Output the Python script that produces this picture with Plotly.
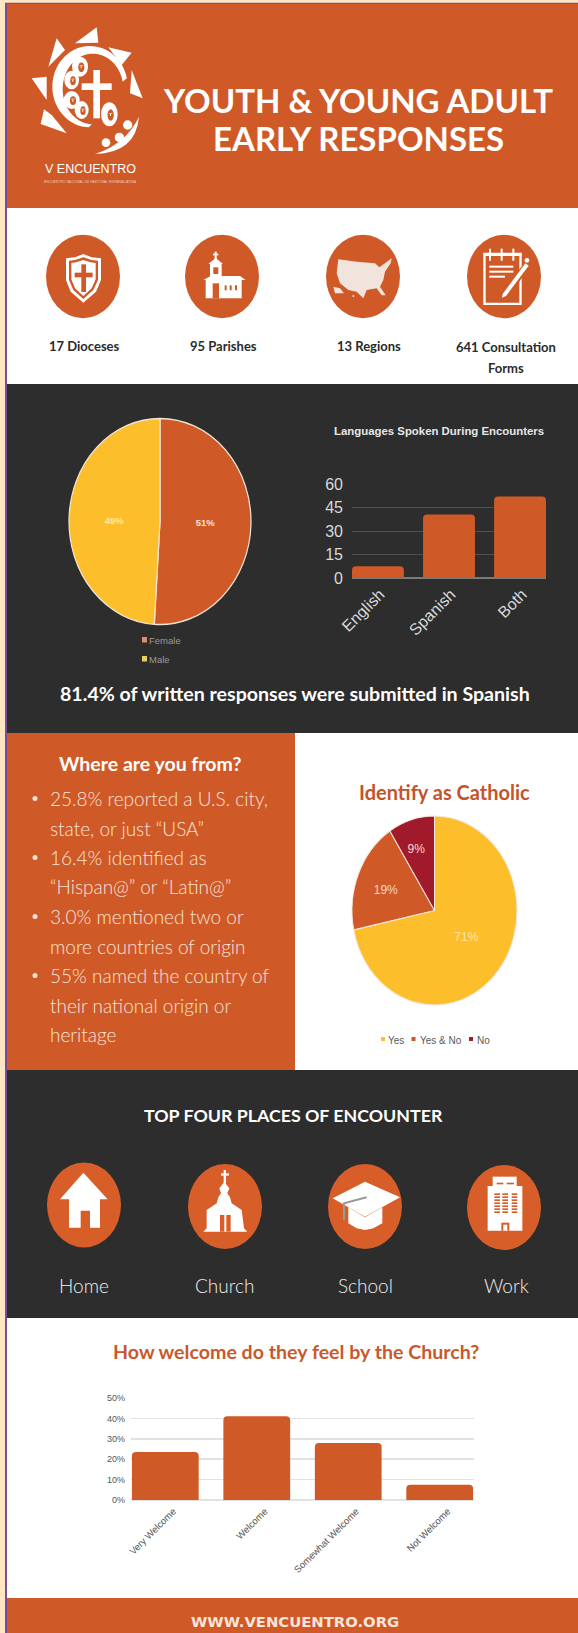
import numpy as np
import plotly.graph_objects as go

W, H = 578, 1633
ORANGE = "#CF5A27"
DARK = "#2D2D2D"
YELLOW = "#FDBE2B"
MAROON = "#A01A2B"
CREAM = "#FFE7C2"
PURPLE = "#7A4BA0"
WHITE = "#FFFFFF"
HEAD = "Lato"

gender_labels = ["Female", "Male"]
gender_values = [51, 49]
language_labels = ["English", "Spanish", "Both"]
language_values = [7.5, 40.5, 52]
catholic_labels = ["Yes", "Yes & No", "No"]
catholic_values = [71, 19, 9]
welcome_labels = ["Very Welcome", "Welcome", "Somewhat Welcome", "Not Welcome"]
welcome_values = [23.5, 41, 28, 7.5]
welcome_ticks = [0, 10, 20, 30, 40, 50]
welcome_ticktext = ["0%", "10%", "20%", "30%", "40%", "50%"]
language_ticks = [0, 15, 30, 45, 60]

shapes = []
annots = []


def rect(x0, y0, x1, y1, color):
    shapes.append(dict(type="rect", xref="x", yref="y", x0=x0, y0=y0, x1=x1, y1=y1,
                       fillcolor=color, line=dict(width=0), layer="below"))


def oval(cx, cy, rx, ry, color):
    shapes.append(dict(type="circle", xref="x", yref="y", x0=cx - rx, y0=cy - ry, x1=cx + rx, y1=cy + ry,
                       fillcolor=color, line=dict(width=0), layer="below"))


def path(d, color, stroke=None, sw=0):
    shapes.append(dict(type="path", xref="x", yref="y", path=d, fillcolor=color,
                       line=dict(width=sw, color=stroke or color), layer="below"))


def poly(pts, ox, oy, color, s=1 / 3):
    d = "M" + " L".join(f"{ox + x * s:.2f},{oy + y * s:.2f}" for x, y in pts) + " Z"
    path(d, color)


def box(x0, y0, x1, y1, ox, oy, color, s=1 / 3):
    rect(ox + x0 * s, oy + y0 * s, ox + x1 * s, oy + y1 * s, color)


def dot(x, y, rx, ry, ox, oy, color, s=1 / 3):
    oval(ox + x * s, oy + y * s, rx * s, ry * s, color)


def text(t, x, y, size, color, family=HEAD, weight=400, anchor="center"):
    annots.append(dict(text=t, x=x, y=y, xref="x", yref="y", showarrow=False, xanchor=anchor, yanchor="middle",
                       font=dict(size=size, color=color, family=family, weight=weight)))


# page panels
rect(0, 0, W, H, CREAM)
rect(5, 2.7, W, H, PURPLE)
rect(7, 4, W, 208, ORANGE)
rect(7, 208, W, 384, WHITE)
rect(7, 384, W, 733, DARK)
rect(7, 733, 295, 1070, ORANGE)
rect(295, 733, W, 1070, WHITE)
rect(7, 1070, W, 1318, DARK)
rect(7, 1318, W, 1598, WHITE)
rect(7, 1598, W, H, ORANGE)

# logo, sketched in crop coordinates
LX, LY = 20, 20
for tri in ([(165, 70), (230, 22), (235, 68)], [(265, 82), (335, 98), (305, 135)],
            [(335, 150), (368, 235), (330, 220)], [(85, 140), (110, 55), (135, 90)],
            [(35, 175), (80, 170), (80, 240)], [(72, 268), (95, 285), (140, 340), (62, 312)]):
    poly(tri, LX, LY, WHITE)
ang_o = np.radians(np.linspace(-12, -268, 50))
ang_i = ang_o[::-1]
outer = [(210 + 113 * np.cos(a), 200 + 122 * np.sin(a)) for a in ang_o]
inner = [(219 + 91 * np.cos(a), 207 + 106 * np.sin(a)) for a in ang_i]
poly(outer + inner, LX, LY, WHITE)
box(220, 150, 240, 295, LX, LY, WHITE)
box(185, 190, 275, 210, LX, LY, WHITE)
for fx, fy, frx, fry in ((180, 140, 24, 30), (155, 180, 22, 28), (155, 240, 24, 27), (185, 270, 21, 27), (268, 283, 25, 36)):
    dot(fx, fy, frx, fry, LX, LY, WHITE)
    dot(fx + 4, fy + 2, frx * 0.38, fry * 0.48, LX, LY, ORANGE)
    box(fx - 1, fy - 4, fx + 9, fy - 2, LX, LY, WHITE)
    box(fx + 2, fy - 1, fx + 5, fy + 5, LX, LY, WHITE)
for dx, dy, dr in ((323, 315, 14), (298, 352, 14), (258, 368, 13)):
    dot(dx, dy, dr, dr, LX, LY, WHITE)
sx = lambda v: LX + v / 3
sy = lambda v: LY + v / 3
path(f"M{sx(357)},{sy(290)} Q{sx(348)},{sy(398)} {sx(225)},{sy(402)} Q{sx(318)},{sy(372)} {sx(357)},{sy(290)} Z", WHITE)
text("V ENCUENTRO", 90, 169, 12.5, WHITE, "Liberation Sans")
text("ENCUENTRO NACIONAL DE PASTORAL HISPANA/LATINA", 90, 182, 3.4, "#F3C9B5", "Liberation Sans")

# title
text("YOUTH & YOUNG ADULT", 358, 100, 33, WHITE, weight=700)
text("EARLY RESPONSES", 358, 138, 33, WHITE, weight=700)

# top icon row
for cx in (83, 222, 363, 504):
    oval(cx, 276.5, 37, 41.7, ORANGE)
IX, IY = 40, 230
shield = [(130, 72), (155, 82), (183, 85), (183, 150), (168, 185), (130, 218), (92, 185), (78, 150), (78, 85), (105, 82)]
poly(shield, IX, IY, WHITE)
poly([(130, 82), (155, 90), (174, 92), (174, 150), (160, 180), (130, 207), (100, 180), (87, 150), (87, 92), (105, 90)], IX, IY, ORANGE)
poly([(130, 90), (152, 97), (167, 99), (167, 148), (155, 175), (130, 198), (105, 175), (94, 148), (94, 99), (108, 97)], IX, IY, WHITE)
box(124, 103, 138, 186, IX, IY, ORANGE)
box(104, 128, 158, 142, IX, IY, ORANGE)
# parish
box(524, 65, 530, 88, IX, IY, WHITE)
box(519, 71, 535, 76, IX, IY, WHITE)
poly([(505, 102), (527, 84), (549, 102)], IX, IY, WHITE)
box(510, 100, 545, 150, IX, IY, WHITE)
poly([(490, 150), (512, 138), (600, 138), (617, 150)], IX, IY, WHITE)
box(497, 150, 605, 205, IX, IY, WHITE)
box(520, 112, 535, 132, IX, IY, ORANGE)
box(518, 160, 537, 205, IX, IY, ORANGE)
for wx in (557, 572, 588):
    box(wx - 3, 166, wx + 3, 181, IX, IY, ORANGE)
# map
MAPC = "#F0E4DC"
poly([(55, 88), (110, 95), (165, 100), (178, 112), (195, 100), (215, 85), (212, 100), (195, 125), (190, 150), (180, 170),
      (197, 196), (185, 196), (170, 175), (140, 180), (130, 205), (110, 185), (85, 180), (60, 160), (50, 130)], 320, 230, MAPC)
poly([(40, 170), (60, 175), (72, 190), (45, 190)], 320, 230, MAPC)
dot(100, 198, 3, 3, 320, 230, MAPC)
# notepad
poly([(490, 70), (605, 70), (605, 225), (490, 225)], 320, 230, WHITE)
poly([(497, 78), (598, 78), (598, 218), (497, 218)], 320, 230, ORANGE)
box(490, 68, 605, 78, 320, 230, WHITE)
for rx in (510, 545, 580):
    box(rx - 3, 56, rx + 3, 92, 320, 230, WHITE)
box(508, 107, 580, 113, 320, 230, WHITE)
box(508, 122, 580, 128, 320, 230, WHITE)
box(508, 137, 555, 143, 320, 230, WHITE)
poly([(618, 92), (634, 104), (560, 208), (538, 212), (542, 190)], 320, 230, ORANGE)
poly([(616, 100), (626, 107), (558, 198), (546, 203), (548, 192)], 320, 230, WHITE)
dot(621, 91, 7, 7, 320, 230, WHITE)

for lab, x, y in (("17 Dioceses", 84, 346), ("95 Parishes", 223, 346), ("13 Regions", 369, 346),
                  ("641 Consultation", 506, 347), ("Forms", 506, 368)):
    text(lab, x, y, 13, "#2B2B2B", weight=700)

# section two headline
text("81.4% of written responses were submitted in Spanish", 295, 693, 19.6, WHITE, weight=700)
text("Languages Spoken During Encounters", 439, 431, 11.4, "#E6E6E6", "Liberation Sans", 700)
for y, lab, c in ((640, "Female", "#E08E6C"), (659, "Male", "#E6CF6A")):
    rect(142, y - 3, 147, y + 2.5, c)
    text(lab, 147, y, 9.5, "#9A9A9A", "Liberation Sans", anchor="left")

# where are you from
text("Where are you from?", 150, 763, 19.5, WHITE, weight=700)
bullets = [("25.8% reported a U.S. city,", 798, True), ("state, or just “USA”", 828, False),
           ("16.4% identified as", 857, True), ("“Hispan@” or “Latin@”", 886, False),
           ("3.0% mentioned two or", 916, True), ("more countries of origin", 946, False),
           ("55% named the country of", 975, True), ("their national origin or", 1005, False),
           ("heritage", 1034, False)]
for t, y, b in bullets:
    if b:
        oval(35, y + 0.5, 2.5, 2.5, "#F7E4DA")
    text(t, 47.5, y, 19, "#F7E4DA", weight=300, anchor="left")

text("Identify as Catholic", 444, 792, 20, "#C4532B", weight=700)
for x, tx, lab, c, in ((383, 386, "Yes", YELLOW), (413.5, 418, "Yes & No", ORANGE), (471, 475, "No", MAROON)):
    rect(x - 2, 1037, x + 2, 1041, c)
    text(lab, tx, 1040, 10, "#5A5A5A", "Liberation Sans", anchor="left")

# places of encounter
text("TOP FOUR PLACES OF ENCOUNTER", 293, 1115, 17.8, WHITE, weight=700)
for cx, cy in ((84, 1205), (225, 1206.5), (365, 1206.5), (504, 1207.5)):
    oval(cx, cy, 37, 42.5, "#D85E29")
PX, PY = 40, 1160
poly([(130, 38), (203, 118), (180, 118), (180, 203), (150, 203), (150, 152), (122, 152), (122, 203), (87, 203), (87, 118), (60, 118)], PX, PY, WHITE)
box(551, 30, 558, 70, PX, PY, WHITE)
box(543, 40, 567, 47, PX, PY, WHITE)
poly([(553, 66), (568, 85), (562, 100), (570, 112), (575, 130), (605, 150), (612, 205), (622, 215), (490, 215), (500, 205),
      (500, 150), (530, 130), (535, 112), (543, 100), (538, 85)], PX, PY, WHITE)
box(540, 165, 572, 215, PX, PY, "#D85E29")
box(553, 165, 559, 215, PX, PY, WHITE)
QX, QY = 320, 1160
poly([(85, 142), (135, 172), (187, 142), (187, 190), (160, 205), (135, 210), (110, 205), (85, 190)], QX, QY, WHITE)
poly([(135, 65), (240, 112), (135, 170), (38, 115)], QX, QY, WHITE)
path(f"M{QX + 140 / 3},{QY + 112 / 3} L{QX + 72 / 3},{QY + 130 / 3} L{QX + 72 / 3},{QY + 180 / 3}", "rgba(0,0,0,0)", "#9A9A9A", 2)
box(503, 78, 607, 212, QX, QY, WHITE)
box(518, 50, 590, 78, QX, QY, WHITE)
W1 = "#D85E29"
box(530, 68, 550, 73, QX, QY, W1)
box(560, 68, 582, 73, QX, QY, W1)
for col in (523, 547, 575):
    for row in range(7):
        box(col, 100 + row * 9, col + 17, 105 + row * 9, QX, QY, W1)
box(544, 188, 568, 212, QX, QY, W1)
box(550, 194, 562, 212, QX, QY, WHITE)
for lab, x in (("Home", 84), ("Church", 224.5), ("School", 365), ("Work", 506)):
    text(lab, x, 1285, 19, "#EFEFEF", weight=300)

text("How welcome do they feel by the Church?", 295.6, 1351, 19.6, "#C9582C", weight=700)
text("WWW.VENCUENTRO.ORG", 295, 1621, 14.8, "#F7E4DA", "DejaVu Sans", 700)

fig = go.Figure()
fig.add_trace(go.Scatter(x=[0, W], y=[0, H], mode="markers", marker=dict(opacity=0), hoverinfo="skip",
                         showlegend=False, xaxis="x", yaxis="y"))
R1, R2 = 91, 82.5
CY1, CY2 = 521.5, 910.5
fig.add_trace(go.Pie(labels=gender_labels, values=gender_values, sort=False, direction="clockwise", rotation=0,
                     marker=dict(colors=[ORANGE, YELLOW], line=dict(color="#EFE6D8", width=1.2)),
                     texttemplate="%{value}%", textposition="inside", insidetextorientation="horizontal",
                     insidetextfont=dict(size=9.5, family="Liberation Sans", color=["#FBE3D3", "#FFE9A8"], weight=700),
                     domain=dict(x=[(160 - R1) / W, (160 + R1) / W], y=[1 - (CY1 + R1) / H, 1 - (CY1 - R1) / H]),
                     showlegend=False))
fig.add_trace(go.Pie(labels=catholic_labels, values=catholic_values, sort=False, direction="clockwise", rotation=0,
                     marker=dict(colors=[YELLOW, ORANGE, MAROON], line=dict(color="#F3E6DA", width=1)),
                     texttemplate="%{value}%", textposition="inside", insidetextorientation="horizontal",
                     insidetextfont=dict(size=12, family="Liberation Sans", color=["#FFE3A0", "#F3D9CB", "#F3D9CB"]),
                     domain=dict(x=[(434.5 - R2) / W, (434.5 + R2) / W], y=[1 - (CY2 + R2) / H, 1 - (CY2 - R2) / H]),
                     showlegend=False))
fig.add_trace(go.Bar(x=language_labels, y=language_values, marker=dict(color=ORANGE, line=dict(width=0)),
                     xaxis="x2", yaxis="y2", showlegend=False))
fig.add_trace(go.Bar(x=welcome_labels, y=welcome_values, marker=dict(color=ORANGE, line=dict(width=0)),
                     xaxis="x3", yaxis="y3", showlegend=False))

fig.update_layout(
    width=W, height=H, margin=dict(l=0, r=0, t=0, b=0), paper_bgcolor=CREAM, plot_bgcolor="rgba(0,0,0,0)",
    shapes=shapes, annotations=annots, bargap=0.27, barcornerradius=4, showlegend=False,
    xaxis=dict(domain=[0, 1], range=[0, W], visible=False, fixedrange=True, automargin=False),
    yaxis=dict(domain=[0, 1], range=[H, 0], visible=False, fixedrange=True, automargin=False),
    xaxis2=dict(domain=[352 / W, 546 / W], anchor="y2", range=[-0.365, 2.365], type="category", tickangle=-45,
                tickfont=dict(size=16, family="Liberation Sans", color="#D9D9D9"), showgrid=False, ticks="",
                showline=False, automargin=False, ticklabelstandoff=3, ticklabelshift=2),
    yaxis2=dict(domain=[1 - 578 / H, 1 - 484 / H], anchor="x2", range=[0, 60], tickvals=language_ticks,
                tickfont=dict(size=16, family="Liberation Sans", color="#D9D9D9"), gridcolor="#505050", gridwidth=1,
                zerolinecolor="#7A7A7A", ticks="", automargin=False, ticklabelstandoff=8),
    xaxis3=dict(domain=[131 / W, 474 / W], anchor="y3", range=[-0.375, 3.375], type="category", tickangle=-45,
                tickfont=dict(size=9.5, family="Liberation Sans", color="#555555"), showgrid=False, ticks="",
                automargin=False, ticklabelstandoff=3, ticklabelshift=8),
    yaxis3=dict(domain=[1 - 1500 / H, 1 - 1398 / H], anchor="x3", range=[0, 50], tickvals=welcome_ticks,
                ticktext=welcome_ticktext,
                tickfont=dict(size=9, family="Liberation Sans", color="#555555"), gridcolor="#E2E2E2", gridwidth=1.5,
                zerolinecolor="#E2E2E2", ticks="", automargin=False, ticklabelstandoff=5),
)

POST = """
document.body.style.margin = '0';
document.documentElement.style.overflow = 'hidden';
var gd = document.getElementById('{plot_id}');
var stretch = [[521.5, 1.132], [910.5, 1.145]];
gd.querySelectorAll('.pielayer .trace').forEach(function (t, i) {
  var cy = stretch[i][0], s = stretch[i][1];
  t.querySelectorAll('path.surface').forEach(function (p) {
    p.setAttribute('transform', 'translate(0,' + cy + ') scale(1,' + s + ') translate(0,' + (-cy) + ')');
  });
});
"""
fig.write_html("out.html", config=dict(displayModeBar=False, staticPlot=True), post_script=POST)
